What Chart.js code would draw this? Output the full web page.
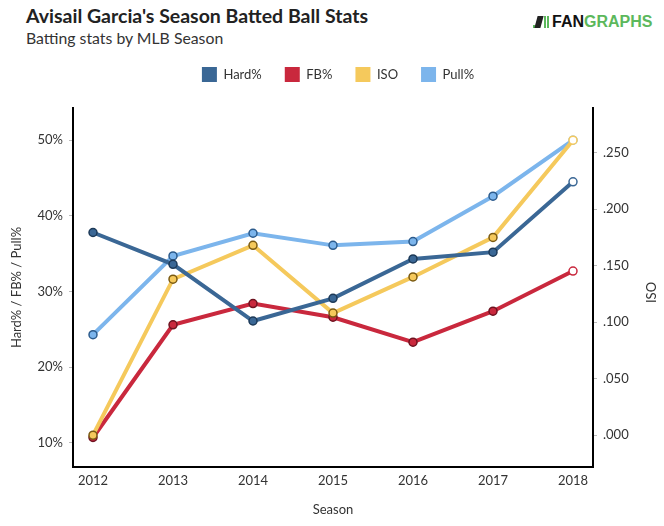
<!DOCTYPE html>
<html>
<head>
<meta charset="utf-8">
<script src="https://cdn.jsdelivr.net/npm/chart.js"></script>
<style>
    html, body { margin: 0; padding: 0; background: #fff; }
    #wrap { position: relative; width: 664px; height: 526px; font-family: Lato, sans-serif; }
    #title { position: absolute; left: 26px; top: 4px; font-size: 19.5px; font-weight: bold; color: #222; }
    #subtitle { position: absolute; left: 26px; top: 28px; font-size: 15.8px; color: #333; }
    #logo { position: absolute; left: 533px; top: 13px; font-family: "Liberation Sans", Arial, sans-serif; font-weight: bold; font-size: 16px; color: #111; white-space: nowrap; }
    #logo .g { color: #5cb85c; }
    #logo .bar { display: inline-block; width: 2px; background: #5cb85c; margin-right: 1px; vertical-align: -1px; }
    #logo .fig { display: inline-block; width: 6px; height: 12px; background: #222; margin-right: 2px; vertical-align: -1px; transform: skewX(-15deg); }
    canvas { position: absolute; left: 0; top: 0; }
</style>
</head>
<body>
<div id="wrap">
    <div id="title">Avisail Garcia's Season Batted Ball Stats</div>
    <div id="subtitle">Batting stats by MLB Season</div>
    <div id="logo"><span class="bar" style="height:3px"></span><span class="fig"></span><span class="bar" style="height:12px"></span><span class="bar" style="height:12px;margin-right:3px"></span>FAN<span class="g">GRAPHS</span></div>
    <canvas id="chart" width="664" height="526"></canvas>
</div>
<script>
// Dados
const seasons = [2012, 2013, 2014, 2015, 2016, 2017, 2018];
const hardPct = [37.8, 33.6, 26.1, 29.1, 34.3, 35.2, 44.5];
const fbPct = [10.7, 25.6, 28.4, 26.6, 23.3, 27.4, 32.7];
const isoVals = [0.000, 0.138, 0.168, 0.108, 0.140, 0.175, 0.261];
const pullPct = [24.3, 34.7, 37.7, 36.1, 36.6, 42.6, 50.0];

const leftTicks = [10, 20, 30, 40, 50];
const rightTicks = [0, 0.05, 0.10, 0.15, 0.20, 0.25];

const tickFont = { family: 'Lato', size: 13 };
const textColor = '#333';

function toPoints(values) {
    return values.map((v, i) => ({ x: seasons[i], y: v }));
}

// ultimo ponto vazado (branco)
function pointFill(color) {
    return seasons.map((s, i) => i === seasons.length - 1 ? '#fff' : color);
}

function makeSeries(label, values, color, border, axis, order) {
    return {
        label: label,
        data: toPoints(values),
        yAxisID: axis,
        order: order,
        borderColor: color,
        backgroundColor: color,
        borderWidth: 4,
        pointRadius: 4,
        pointHoverRadius: 4,
        pointBorderWidth: 1.5,
        pointBackgroundColor: pointFill(color),
        pointBorderColor: seasons.map((s, i) => i === seasons.length - 1 ? color : border),
        tension: 0
    };
}

// espaco extra abaixo da legenda e deslocamento horizontal
const legendSpacing = {
    id: 'legendSpacing',
    beforeInit(chart) {
        const origFit = chart.legend.fit;
        chart.legend.fit = function () {
            origFit.call(this);
            this.height += 16;
        };
    },
    afterLayout(chart) {
        chart.legend.left += 6;
        chart.legend.right += 6;
    }
};

// titulo do eixo direito girado como o esquerdo
const rightTitle = {
    id: 'rightTitle',
    afterDraw(chart) {
        const ctx = chart.ctx;
        const area = chart.chartArea;
        ctx.save();
        ctx.translate(652, (area.top + area.bottom) / 2 + 5);
        ctx.rotate(-Math.PI / 2);
        ctx.font = '13px Lato';
        ctx.fillStyle = textColor;
        ctx.textAlign = 'center';
        ctx.textBaseline = 'middle';
        ctx.fillText('ISO', 0, 0);
        ctx.restore();
    }
};

new Chart(document.getElementById('chart'), {
    type: 'line',
    data: {
        datasets: [
            makeSeries('Hard%', hardPct, '#3a6795', '#1d3a58', 'y', 0),
            makeSeries('FB%', fbPct, '#c9283d', '#6e1320', 'y', 2),
            makeSeries('ISO', isoVals, '#f5c95c', '#7a5a12', 'y1', 1),
            makeSeries('Pull%', pullPct, '#7cb5ec', '#2c5b8c', 'y', 3)
        ]
    },
    options: {
        responsive: false,
        animation: false,
        layout: { padding: { top: 44, left: 0, right: 0, bottom: 0 } },
        plugins: {
            legend: {
                position: 'top',
                labels: {
                    boxWidth: 15,
                    boxHeight: 15,
                    padding: 23,
                    color: textColor,
                    font: { family: 'Lato', size: 13 },
                    generateLabels(chart) {
                        return chart.data.datasets.map((ds, i) => ({
                            text: ds.label,
                            fillStyle: ds.borderColor,
                            strokeStyle: ds.borderColor,
                            lineWidth: 0,
                            datasetIndex: i,
                            fontColor: textColor
                        }));
                    }
                }
            },
            tooltip: { enabled: false }
        },
        scales: {
            x: {
                type: 'linear',
                min: 2011.75,
                max: 2018.25,
                afterFit(scale) { scale.height = 59; },
                afterBuildTicks(scale) { scale.ticks = seasons.map(v => ({ value: v })); },
                ticks: { color: textColor, font: tickFont, padding: 6, callback: v => String(v) },
                grid: { display: true, drawOnChartArea: false, drawTicks: true, tickLength: 0, color: '#bbb' },
                border: { display: true, color: '#000', width: 2 },
                title: { display: true, text: 'Season', color: textColor, font: tickFont, padding: { bottom: 8 } }
            },
            y: {
                position: 'left',
                min: 6.8,
                max: 54.26,
                afterFit(scale) { scale.width = 73; },
                afterBuildTicks(scale) { scale.ticks = leftTicks.map(v => ({ value: v })); },
                ticks: { color: textColor, font: tickFont, padding: 6, callback: v => v + '%' },
                grid: { drawOnChartArea: false, tickLength: 4, color: '#bbb' },
                border: { display: true, color: '#000', width: 2 },
                title: { display: true, text: 'Hard% / FB% / Pull%', color: textColor, font: tickFont, padding: { top: 9 } }
            },
            y1: {
                position: 'right',
                min: -0.0282,
                max: 0.2895,
                afterFit(scale) { scale.width = 71; },
                afterBuildTicks(scale) { scale.ticks = rightTicks.map(v => ({ value: v })); },
                ticks: { color: textColor, font: tickFont, padding: 6, callback: v => v.toFixed(3).replace(/^0/, '') },
                grid: { drawOnChartArea: false, tickLength: 4, color: '#bbb' },
                border: { display: true, color: '#000', width: 2 }
            }
        }
    },
    plugins: [legendSpacing, rightTitle]
});
</script>
</body>
</html>
